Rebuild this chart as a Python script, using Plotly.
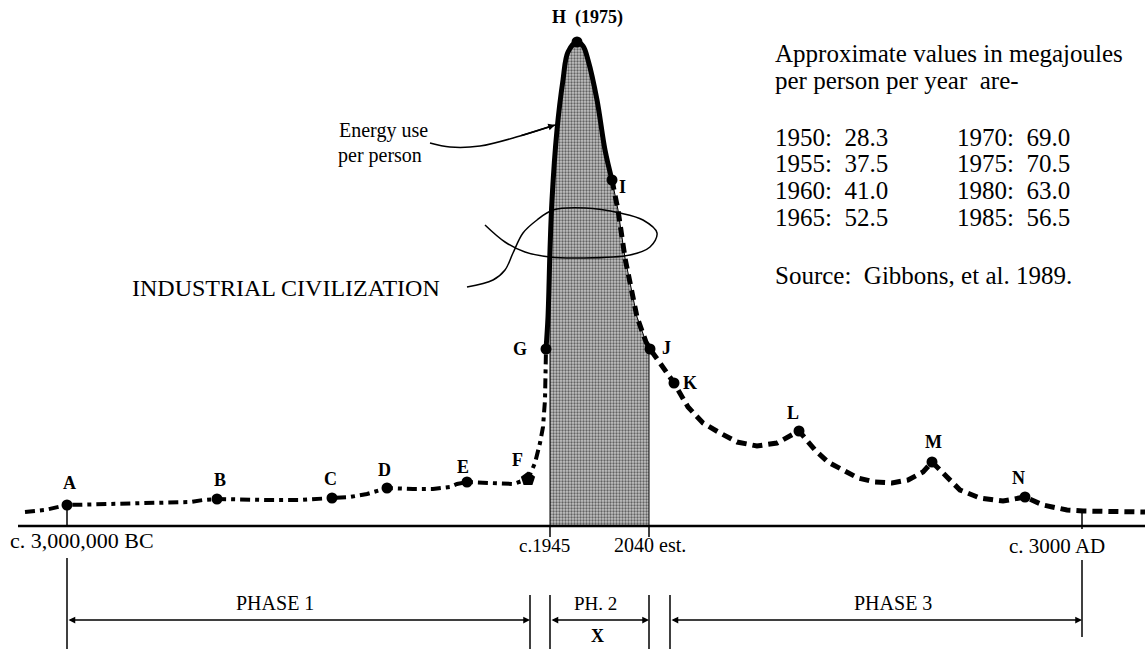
import numpy as np
import plotly.graph_objects as go

# ---------------- data (x = timeline position, h = energy use per person, arbitrary units) ----------------
point_names = ["A", "B", "C", "D", "E", "F", "G", "H", "I", "J", "K", "L", "M", "N"]
point_x = [67, 217, 332, 387, 467, 528, 546, 577, 612, 650, 674, 799, 932, 1025]
point_h = [21, 27, 28, 38, 44, 47, 177, 484, 346, 177, 143, 95, 64, 29]

# pre-industrial curve (dash-dot)
ancient_x = [25, 45, 67, 110, 167, 190, 203, 217, 267, 300, 332, 350, 367, 387, 413, 433, 450, 457,
             467, 483, 513, 528, 535, 540, 543, 545, 546, 546]
ancient_h = [14, 16, 21, 22, 23, 24, 26, 27, 26, 26, 28, 29, 32, 38, 37, 37, 39, 42,
             44, 43, 42, 47, 63, 83, 99, 126, 153, 177]

# industrial peak (solid)
peak_x = [546, 548, 550, 552, 557, 563, 568, 577, 583, 588, 597, 605, 612]
peak_h = [177, 209, 276, 326, 396, 446, 474, 484, 480, 466, 426, 376, 346]

# decline (dashed)
decline_x = [612, 618, 625, 637, 646, 650, 660, 674, 688, 703, 720, 737, 757, 777, 799, 815, 828,
             843, 858, 875, 892, 908, 923, 932, 947, 960, 980, 1003, 1025, 1043, 1067, 1083, 1145]
decline_h = [346, 316, 268, 209, 184, 177, 163, 143, 119, 103, 93, 84, 80, 83, 95, 76, 64,
             56, 48, 44, 43, 46, 54, 64, 49, 36, 28, 25, 29, 21, 16, 15, 14]

# time axis labels
era_x = [67, 550, 649, 1082]
era_labels = ["c. 3,000,000 BC", "c.1945", "2040 est.", "c. 3000 AD"]

# phases
phase_names = ["PHASE 1", "PH. 2", "PHASE 3"]
phase_start = [67, 550, 670]
phase_end = [530, 649, 1082]

# table of values
years_left = [1950, 1955, 1960, 1965]
values_left = [28.3, 37.5, 41.0, 52.5]
years_right = [1970, 1975, 1980, 1985]
values_right = [69.0, 70.5, 63.0, 56.5]

# annotation curves
energy_arrow_x = [430, 450, 480, 520, 555]
energy_arrow_h = [383, 379, 380, 390, 401]
lasso_x = [467, 493, 505, 513, 523, 537, 553, 585, 620, 643, 657, 650, 630, 580, 550, 525, 505, 485]
lasso_h = [239, 246, 256, 273, 293, 306, 316, 318, 313, 306, 293, 279, 271, 268, 269, 274, 284, 301]

# ---------------- figure ----------------
FONT = "Liberation Serif, Times New Roman, serif"
fig = go.Figure()

# shaded industrial window
x_lo, x_hi = era_x[1], era_x[2]
sx, sh = [x_lo], [0]
for x, h in zip(peak_x + decline_x[1:], peak_h + decline_h[1:]):
    if x_lo <= x <= x_hi:
        sx.append(x)
        sh.append(h)
h_hi = float(np.interp(x_hi, decline_x, decline_h))
sx += [x_hi, x_hi, x_lo]
sh += [h_hi, 0, 0]
fig.add_trace(go.Scatter(
    x=sx, y=sh, mode="lines", fill="toself",
    fillcolor="#c4c4c4",
    fillpattern=dict(shape=".", size=3, solidity=0.45, fgcolor="#000000", bgcolor="#c4c4c4"),
    line=dict(color="black", width=1), hoverinfo="skip", showlegend=False))

# baseline
fig.add_trace(go.Scatter(x=[18, 1145], y=[0, 0], mode="lines",
                         line=dict(color="black", width=2.5), showlegend=False))

# small vertical ticks on the time axis
tick_segments = [(era_x[0], 0, point_h[0]), (era_x[1], 0, -11), (era_x[2], 0, -11), (era_x[3], -3, 15)]
for x, a, b in tick_segments:
    fig.add_trace(go.Scatter(x=[x, x], y=[a, b], mode="lines",
                             line=dict(color="black", width=1.5), showlegend=False))

# phase separators
sep = [(phase_start[0], -32, -123), (phase_end[0], -69, -123), (phase_start[1], -69, -123),
       (phase_end[1], -69, -123), (phase_start[2], -69, -123), (phase_end[2], -34, -111)]
for x, a, b in sep:
    fig.add_trace(go.Scatter(x=[x, x], y=[a, b], mode="lines",
                             line=dict(color="black", width=1.5), showlegend=False))

# lasso / industrial civilization pointer
fig.add_trace(go.Scatter(x=lasso_x, y=lasso_h, mode="lines", line_shape="spline",
                         line=dict(color="black", width=1.5), showlegend=False))
# energy-use pointer
fig.add_trace(go.Scatter(x=energy_arrow_x, y=energy_arrow_h, mode="lines", line_shape="spline",
                         line=dict(color="black", width=1.5), showlegend=False))

# curves
fig.add_trace(go.Scatter(x=ancient_x, y=ancient_h, mode="lines",
                         line=dict(color="black", width=4, dash="10px,5px,4px,5px"), showlegend=False))
fig.add_trace(go.Scatter(x=peak_x, y=peak_h, mode="lines", line_shape="spline",
                         line=dict(color="black", width=5), showlegend=False))
fig.add_trace(go.Scatter(x=decline_x, y=decline_h, mode="lines",
                         line=dict(color="black", width=5, dash="10px,6px"), showlegend=False))

# points
sym = ["pentagon" if n == "F" else "circle" for n in point_names]
siz = [15 if n == "F" else 11 for n in point_names]
fig.add_trace(go.Scatter(x=point_x, y=point_h, mode="markers",
                         marker=dict(color="black", size=siz, symbol=sym, opacity=1,
                                     line=dict(color="black", width=0)),
                         showlegend=False))

annotations = []
# point labels
label_off = {"A": (2, 22), "B": (3, 19), "C": (-2, 19), "D": (-3, 18), "E": (-4, 15), "F": (-11, 19),
             "G": (-26, 0), "H": (10, 25), "I": (10, -7), "J": (16, 1), "K": (16, 0), "L": (-6, 18),
             "M": (1, 20), "N": (-7, 19)}
for n, x, h in zip(point_names, point_x, point_h):
    dx, dy = label_off[n]
    txt = "<b>H</b>  <b>(1975)</b>" if n == "H" else f"<b>{n}</b>"
    annotations.append(dict(x=x + dx, y=h + dy, text=txt, showarrow=False,
                            font=dict(family=FONT, size=18, color="black"), xanchor="center",
                            yanchor="middle"))

# era labels
era_dx = [15, -6, 1, -25]
era_dy = [-14, -19, -19, -20]
era_size = [22, 19, 20, 21]
for x, t, dx, dy, s in zip(era_x, era_labels, era_dx, era_dy, era_size):
    annotations.append(dict(x=x + dx, y=dy, text=t, showarrow=False,
                            font=dict(family=FONT, size=s, color="black"), xanchor="center",
                            yanchor="middle"))

# phase arrows and labels
phase_label_x = [275, 595, 893]
phase_label_size = [20, 19, 20]
for n, a, b, lx, s in zip(phase_names, phase_start, phase_end, phase_label_x, phase_label_size):
    annotations.append(dict(x=b, y=-94, ax=a, ay=-94, axref="x", ayref="y", xref="x", yref="y",
                            showarrow=True, arrowhead=2, arrowside="end+start", arrowsize=0.9,
                            arrowwidth=1.5, arrowcolor="black", text=""))
    annotations.append(dict(x=lx, y=-77, text=n, showarrow=False,
                            font=dict(family=FONT, size=s, color="black"), xanchor="center",
                            yanchor="middle"))
annotations.append(dict(x=597, y=-110, text="<b>X</b>", showarrow=False,
                        font=dict(family=FONT, size=18, color="black"), xanchor="center", yanchor="middle"))

# energy arrow head
annotations.append(dict(x=energy_arrow_x[-1], y=energy_arrow_h[-1], ax=energy_arrow_x[-2],
                        ay=energy_arrow_h[-2], axref="x", ayref="y", showarrow=True, arrowhead=2,
                        arrowsize=0.9, arrowwidth=1.5, arrowcolor="black", text=""))
annotations.append(dict(x=383, y=396, text="Energy use", showarrow=False,
                        font=dict(family=FONT, size=20, color="black"), xanchor="center", yanchor="middle"))
annotations.append(dict(x=380, y=371, text="per person", showarrow=False,
                        font=dict(family=FONT, size=20, color="black"), xanchor="center", yanchor="middle"))
annotations.append(dict(x=286, y=238, text="INDUSTRIAL CIVILIZATION", showarrow=False,
                        font=dict(family=FONT, size=24, color="black"), xanchor="center", yanchor="middle"))

# table text block
NB = "\u00a0"
annotations.append(dict(x=773, y=473, text="Approximate values in megajoules", showarrow=False,
                        font=dict(family=FONT, size=25, color="black"), xanchor="left", yanchor="middle"))
annotations.append(dict(x=773, y=446, text=f"per person per year{NB}{NB}are-", showarrow=False,
                        font=dict(family=FONT, size=25, color="black"), xanchor="left", yanchor="middle"))
row_h = [389, 363, 336, 309]
for yl, vl, yr, vr, h in zip(years_left, values_left, years_right, values_right, row_h):
    annotations.append(dict(x=773, y=h, text=f"{yl}:{NB}{NB}{vl:.1f}", showarrow=False,
                            font=dict(family=FONT, size=25, color="black"), xanchor="left", yanchor="middle"))
    annotations.append(dict(x=955, y=h, text=f"{yr}:{NB}{NB}{vr:.1f}", showarrow=False,
                            font=dict(family=FONT, size=25, color="black"), xanchor="left", yanchor="middle"))
annotations.append(dict(x=773, y=251, text=f"Source:{NB}{NB}Gibbons, et al. 1989.", showarrow=False,
                        font=dict(family=FONT, size=25, color="black"), xanchor="left", yanchor="middle"))

fig.update_layout(
    width=1145, height=649,
    margin=dict(l=0, r=0, t=0, b=0),
    paper_bgcolor="white", plot_bgcolor="white",
    xaxis=dict(range=[0, 1145], visible=False, fixedrange=True),
    yaxis=dict(range=[-123, 526], visible=False, fixedrange=True),
    annotations=annotations,
    showlegend=False,
)
fig.write_html("out.html", config={"displayModeBar": False},
               post_script="document.body.style.margin='0px';document.body.style.overflow='hidden';")
